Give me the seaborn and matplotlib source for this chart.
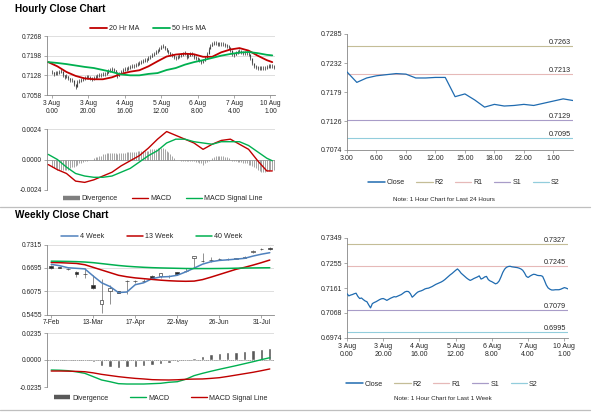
import numpy as np
import matplotlib
matplotlib.use("Agg")
import matplotlib.pyplot as plt
import seaborn as sns
from matplotlib.lines import Line2D
from matplotlib.patches import Rectangle

sns.set_theme(style="white")
plt.rcParams["font.family"] = ["Liberation Sans", "DejaVu Sans"]

# ---------------- data ----------------
# hourly closes, 3 Aug 0.00 -> 10 Aug 3.00 (trading hours)
hourly_close = [
    0.7140, 0.7132, 0.7135, 0.7137, 0.7140, 0.7142, 0.7130, 0.7122, 0.7124, 0.7118,
    0.7113, 0.7110, 0.7098, 0.7087, 0.7103, 0.7107, 0.7110, 0.7114, 0.7118, 0.7121,
    0.7122, 0.7119, 0.7115, 0.7119, 0.7123, 0.7126, 0.7129, 0.7128, 0.7131, 0.7134,
    0.7137, 0.7142, 0.7147, 0.7149, 0.7148, 0.7140, 0.7127, 0.7133, 0.7140, 0.7146,
    0.7149, 0.7151, 0.7154, 0.7158, 0.7160, 0.7161, 0.7164, 0.7167, 0.7171, 0.7175,
    0.7178, 0.7181, 0.7184, 0.7188, 0.7193, 0.7199, 0.7205, 0.7211, 0.7216, 0.7222,
    0.7228, 0.7233, 0.7226, 0.7217, 0.7211, 0.7205, 0.7199, 0.7194, 0.7190, 0.7193,
    0.7197, 0.7200, 0.7203, 0.7207, 0.7195, 0.7198, 0.7203, 0.7205, 0.7193, 0.7188,
    0.7185, 0.7181, 0.7177, 0.7180, 0.7188, 0.7203, 0.7220, 0.7232, 0.7239, 0.7242,
    0.7243, 0.7241, 0.7240, 0.7239, 0.7238, 0.7236, 0.7233, 0.7228, 0.7218, 0.7205,
    0.7201, 0.7206, 0.7210, 0.7213, 0.7212, 0.7209, 0.7208, 0.7208, 0.7205, 0.7190,
    0.7173, 0.7162, 0.7157, 0.7154, 0.7154, 0.7155, 0.7155, 0.7155, 0.7157, 0.7160,
    0.7163, 0.7161, 0.7158,
]
hourly_tick_hours = [0, 20, 40, 60, 80, 100, 120]
hourly_tick_labels = ["3 Aug\n0.00", "3 Aug\n20.00", "4 Aug\n16.00", "5 Aug\n12.00",
                      "6 Aug\n8.00", "7 Aug\n4.00", "10 Aug\n1.00"]

# moving averages / MACD sampled every 5 hours
ma_hours = list(range(-2, 120, 5)) + [121]
ma20 = [0.7175, 0.7160, 0.7140, 0.7126, 0.7117, 0.7114, 0.7114, 0.7121, 0.7133, 0.7141,
        0.7146, 0.7160, 0.7178, 0.7195, 0.7202, 0.7205, 0.7203, 0.7194, 0.7194, 0.7210,
        0.7220, 0.7225, 0.7216, 0.7198, 0.7182, 0.7175]
ma50 = [0.7175, 0.7172, 0.7168, 0.7163, 0.7158, 0.7154, 0.7147, 0.7140, 0.7131, 0.7128,
        0.7128, 0.7133, 0.7136, 0.7147, 0.7154, 0.7166, 0.7175, 0.7182, 0.7190, 0.7198,
        0.7204, 0.7209, 0.7211, 0.7207, 0.7201, 0.7199]
h_macd = [-0.0004, -0.0008, -0.0011, -0.0017, -0.0018, -0.0016, -0.0013, -0.0010, -0.0005, -0.0001,
          0.0003, 0.0009, 0.0016, 0.0022, 0.0019, 0.0016, 0.0013, 0.0008, 0.0012, 0.0015,
          0.0016, 0.0012, 0.0008, -0.0001, -0.0009, -0.0009]
h_signal = [0.0004, 0.0000, -0.0006, -0.0011, -0.0013, -0.0014, -0.0014, -0.0013, -0.0010, -0.0007,
            -0.0002, 0.0003, 0.0007, 0.0013, 0.0016, 0.0016, 0.0014, 0.0013, 0.0012, 0.0014,
            0.0014, 0.0014, 0.0011, 0.0006, 0.0001, -0.0001]
h_divergence = [
    -0.0006, -0.0007, -0.0007, -0.0008, -0.0008, -0.0008, -0.0008, -0.0008, -0.0008, -0.0008,
    -0.0007, -0.0006, -0.0006, -0.0005, -0.0004, -0.0003, -0.0003, -0.0002, -0.0001, -0.0001,
    0.0000, 0.0000, 0.0000, 0.0001, 0.0002, 0.0002, 0.0003, 0.0003, 0.0004, 0.0004,
    0.0005, 0.0005, 0.0005, 0.0005, 0.0005, 0.0005, 0.0004, 0.0005, 0.0005, 0.0005,
    0.0005, 0.0006, 0.0006, 0.0006, 0.0006, 0.0006, 0.0006, 0.0007, 0.0007, 0.0007,
    0.0007, 0.0007, 0.0007, 0.0007, 0.0008, 0.0008, 0.0008, 0.0008, 0.0009, 0.0009,
    0.0009, 0.0009, 0.0008, 0.0007, 0.0006, 0.0004, 0.0003, 0.0001, 0.0000, 0.0000,
    0.0000, -0.0001, -0.0001, -0.0001, -0.0001, -0.0001, -0.0001, -0.0001, -0.0001, -0.0002,
    -0.0002, -0.0003, -0.0003, -0.0004, -0.0003, -0.0002, -0.0001, 0.0000, 0.0001, 0.0002,
    0.0003, 0.0003, 0.0003, 0.0003, 0.0003, 0.0002, 0.0002, 0.0001, 0.0000, -0.0001,
    -0.0001, -0.0001, -0.0002, -0.0002, -0.0002, -0.0003, -0.0003, -0.0003, -0.0004, -0.0004,
    -0.0005, -0.0006, -0.0007, -0.0008, -0.0009, -0.0010, -0.0010, -0.0010, -0.0009, -0.0009,
    -0.0008, -0.0008, -0.0008,
]

# last 24 hours
day_labels = ["3.00", "4.00", "5.00", "6.00", "7.00", "8.00", "9.00", "10.00", "11.00", "12.00",
              "13.00", "14.00", "15.00", "16.00", "17.00", "18.00", "19.00", "20.00", "22.00",
              "23.00", "0.00", "1.00", "2.00", "3.00"]
day_close = [0.7216, 0.7197, 0.7205, 0.7209, 0.7211, 0.7213, 0.7212, 0.7205, 0.7205, 0.7206,
             0.7206, 0.7171, 0.7176, 0.7165, 0.7152, 0.7157, 0.7154, 0.7155, 0.7157, 0.7155,
             0.7159, 0.7163, 0.7167, 0.7164]
day_levels = {"R2": 0.7263, "R1": 0.7213, "S1": 0.7129, "S2": 0.7095}
week_levels = {"R2": 0.7327, "R1": 0.7245, "S1": 0.7079, "S2": 0.6995}

# weekly
week_labels = ["7-Feb", "13-Mar", "17-Apr", "22-May", "26-Jun", "31-Jul"]
w_open = [0.6745, 0.6712, 0.6672, 0.6600, 0.6530, 0.6254, 0.5745, 0.6084, 0.6075, 0.6335,
          0.6345, 0.6350, 0.6491, 0.6485, 0.6480, 0.6575, 0.6610, 0.6950, 0.6890, 0.6900,
          0.6930, 0.6930, 0.6945, 0.6965, 0.7125, 0.7188, 0.7235]
w_high = [0.6760, 0.6730, 0.6700, 0.6610, 0.6680, 0.6520, 0.6400, 0.6236, 0.6090, 0.6370,
          0.6380, 0.6390, 0.6520, 0.6560, 0.6500, 0.6600, 0.6690, 0.7020, 0.7085, 0.6990,
          0.6960, 0.6960, 0.6970, 0.7000, 0.7170, 0.7215, 0.7245]
w_low = [0.6670, 0.6690, 0.6630, 0.6460, 0.6440, 0.6128, 0.5504, 0.5745, 0.6020, 0.6010,
         0.6300, 0.6320, 0.6400, 0.6440, 0.6440, 0.6510, 0.6580, 0.6680, 0.6860, 0.6840,
         0.6900, 0.6910, 0.6920, 0.6950, 0.7100, 0.7170, 0.7170]
w_close = [0.6682, 0.6700, 0.6655, 0.6525, 0.6540, 0.6173, 0.5834, 0.6173, 0.6040, 0.6345,
           0.6340, 0.6360, 0.6425, 0.6548, 0.6470, 0.6540, 0.6620, 0.7010, 0.6880, 0.6910,
           0.6935, 0.6935, 0.6950, 0.6985, 0.7130, 0.7193, 0.7185]
ma4w = [0.6789, 0.6755, 0.6700, 0.6685, 0.6670, 0.6480, 0.6300, 0.6200, 0.6040, 0.6055,
        0.6250, 0.6300, 0.6410, 0.6455, 0.6465, 0.6500, 0.6590, 0.6690, 0.6795, 0.6860,
        0.6895, 0.6910, 0.6930, 0.6950, 0.7010, 0.7060, 0.7100]
ma13w = [0.6840, 0.6835, 0.6825, 0.6815, 0.6780, 0.6710, 0.6640, 0.6570, 0.6500, 0.6460,
         0.6430, 0.6410, 0.6390, 0.6370, 0.6355, 0.6345, 0.6340, 0.6345, 0.6385, 0.6450,
         0.6520, 0.6590, 0.6660, 0.6710, 0.6770, 0.6835, 0.6905]
ma40w = [0.6875, 0.6872, 0.6868, 0.6862, 0.6852, 0.6835, 0.6810, 0.6785, 0.6760, 0.6740,
         0.6725, 0.6712, 0.6702, 0.6695, 0.6690, 0.6685, 0.6680, 0.6678, 0.6678, 0.6678,
         0.6680, 0.6683, 0.6688, 0.6692, 0.6695, 0.6698, 0.6700]
w_macd = [-0.0087, -0.0089, -0.0093, -0.0103, -0.0116, -0.0145, -0.0174, -0.0189, -0.0206, -0.0209,
          -0.0209, -0.0209, -0.0206, -0.0203, -0.0194, -0.0189, -0.0168, -0.0136, -0.0116, -0.0098,
          -0.0081, -0.0065, -0.0049, -0.0032, -0.0015, 0.0003, 0.0020]
w_signal = [-0.0096, -0.0096, -0.0097, -0.0099, -0.0102, -0.0112, -0.0125, -0.0135, -0.0145, -0.0153,
            -0.0160, -0.0165, -0.0171, -0.0173, -0.0174, -0.0172, -0.0168, -0.0166, -0.0165, -0.0160,
            -0.0154, -0.0143, -0.0131, -0.0119, -0.0107, -0.0093, -0.0078]
w_divergence = [0.0009, 0.0003, 0.0002, -0.0003, -0.0003, -0.0020, -0.0052, -0.0061, -0.0073, -0.0064,
                -0.0058, -0.0055, -0.0044, -0.0032, -0.0023, -0.0015, -0.0003, 0.0020, 0.0038, 0.0049,
                0.0058, 0.0067, 0.0073, 0.0078, 0.0087, 0.0096, 0.0102]

# ---------------- style ----------------
W, H = 600, 413
RED, GREEN, BLUE4 = "#C00000", "#00B050", "#4F81BD"
CLOSE = "#1F6BB0"
LEVEL_COL = {"R2": "#C4BD97", "R1": "#E6B9B8", "S1": "#A89CC8", "S2": "#92CDDC"}
GRID, AXC, TXT = "#D9D9D9", "#868686", "#262626"
TICK_FS, LEG_FS = 4.8, 5.1

fig = plt.figure(figsize=(6.0, 4.13), dpi=100)


def box(l, t, r, b):
    return fig.add_axes([l / W, 1 - b / H, (r - l) / W, (b - t) / H])


def style(ax, yticks, ylabels, grid=True, bottom=True):
    ax.set_facecolor("white")
    for s in ["top", "right"]:
        ax.spines[s].set_visible(False)
    ax.spines["left"].set_color(AXC)
    ax.spines["left"].set_linewidth(0.6)
    ax.spines["bottom"].set_color(AXC)
    ax.spines["bottom"].set_linewidth(0.6)
    ax.spines["bottom"].set_visible(bottom)
    ax.set_ylim(yticks[0], yticks[-1])
    ax.set_yticks(yticks)
    ax.set_yticklabels(ylabels)
    if grid:
        for v in yticks[1:]:
            ax.axhline(v, color=GRID, lw=0.6, zorder=0)
    ax.tick_params(axis="both", labelsize=TICK_FS, colors=TXT, length=2, width=0.5,
                   direction="out", pad=1.5, left=True, bottom=bottom)
    ax.tick_params(axis="both", color=AXC)
    ax.set_xlabel("")
    ax.set_ylabel("")


def legend(handles, labels, cx, cy, ncol=None, colsp=2.0):
    fig.legend(handles, labels, loc="center", bbox_to_anchor=(cx / W, 1 - cy / H),
               bbox_transform=fig.transFigure, ncol=ncol or len(handles), frameon=False,
               fontsize=LEG_FS, handlelength=2.3, handletextpad=0.3, columnspacing=colsp,
               borderaxespad=0, borderpad=0)


hours = np.arange(len(hourly_close))
opens = [hourly_close[0]] + hourly_close[:-1]

# ---- A: hourly candles + MAs
axA = box(47, 36, 275, 95)
lo = np.minimum(opens, hourly_close)
hi = np.maximum(opens, hourly_close)
axA.vlines(hours, lo, hi, color="#404040", lw=0.8, zorder=2)
axA.plot(hours, hourly_close, ls="none", marker="|", ms=2.6, mew=0.6, color="#505050", zorder=2)
sns.lineplot(x=ma_hours, y=ma20, ax=axA, color=RED, lw=1.3, zorder=3)
sns.lineplot(x=ma_hours, y=ma50, ax=axA, color=GREEN, lw=1.3, zorder=3)
style(axA, [0.7058, 0.7128, 0.7198, 0.7268], ["0.7058", "0.7128", "0.7198", "0.7268"])
axA.set_xlim(-2.7, 122.5)
axA.set_xticks(hourly_tick_hours)
axA.set_xticklabels(hourly_tick_labels, linespacing=1.25)
legend([Line2D([], [], color=RED, lw=1.3), Line2D([], [], color=GREEN, lw=1.3)],
       ["20 Hr MA", "50 Hrs MA"], 148, 29)

# ---- B: hourly MACD
axB = box(47, 129, 275, 190)
axB.vlines(hours, 0, h_divergence, color="#8C8C8C", lw=0.55, zorder=1)
sns.lineplot(x=ma_hours, y=h_macd, ax=axB, color=RED, lw=1.0, zorder=3)
sns.lineplot(x=ma_hours, y=h_signal, ax=axB, color=GREEN, lw=1.0, zorder=3)
style(axB, [-0.0024, 0.0, 0.0024], ["-0.0024", "0.0000", "0.0024"], bottom=False)
axB.axhline(0, color=AXC, lw=0.5, zorder=2)
axB.axhline(-0.0024, color=GRID, lw=0.6, zorder=0)
axB.set_xlim(-2.7, 122.5)
axB.set_xticks([])
legend([Line2D([], [], color="#7F7F7F", lw=3.2, solid_capstyle="butt"),
        Line2D([], [], color=RED, lw=1.0), Line2D([], [], color=GREEN, lw=1.0)],
       ["Divergence", "MACD", "MACD Signal Line"], 163, 199)


def level_chart(ax, x, y, levels, yt, ylab, xlim):
    for k, v in levels.items():
        ax.axhline(v, color=LEVEL_COL[k], lw=0.8, zorder=1)
        ax.text(0.99, v, f"{v:.4f}", transform=ax.get_yaxis_transform(), ha="right",
                va="bottom", fontsize=5.2, color=TXT)
    sns.lineplot(x=x, y=y, ax=ax, color=CLOSE, lw=0.9, zorder=3)
    style(ax, yt, ylab, grid=False)
    ax.set_xlim(*xlim)


lvl_handles = [Line2D([], [], color=CLOSE, lw=1.1)] + \
              [Line2D([], [], color=LEVEL_COL[k], lw=0.9) for k in ["R2", "R1", "S1", "S2"]]
lvl_names = ["Close", "R2", "R1", "S1", "S2"]

# ---- C: last 24 hours
axC = box(347, 34, 573, 150)
didx = np.arange(len(day_close))
level_chart(axC, didx, day_close, day_levels,
            [0.7074, 0.7126, 0.7179, 0.7232, 0.7285],
            ["0.7074", "0.7126", "0.7179", "0.7232", "0.7285"], (0, len(day_close) - 1))
axC.set_xticks(didx[::3])
axC.set_xticklabels(day_labels[::3])
axC.tick_params(labelsize=5.0)
legend(lvl_handles, lvl_names, 464, 183, colsp=1.6)
fig.text(444 / W, 1 - 200 / H, "Note: 1 Hour Chart for Last 24 Hours", ha="center",
         va="center", fontsize=4.5, color=TXT)

# ---- F: last week hourly
axF = box(347, 238, 568, 338)
level_chart(axF, hours, hourly_close, week_levels,
            [0.6974, 0.7068, 0.7161, 0.7255, 0.7349],
            ["0.6974", "0.7068", "0.7161", "0.7255", "0.7349"], (0, 122))
axF.set_xticks(hourly_tick_hours)
axF.set_xticklabels(hourly_tick_labels, linespacing=1.25)
axF.tick_params(labelsize=5.0)
legend(lvl_handles, lvl_names, 442, 384, colsp=1.6)
fig.text(443 / W, 1 - 398 / H, "Note: 1 Hour Chart for Last 1 Week", ha="center",
         va="center", fontsize=4.5, color=TXT)

# ---- D: weekly candles
axD = box(47, 244.6, 274, 314.6)
wk = np.arange(len(w_close))
axD.vlines(wk, w_low, w_high, color="#7F7F7F", lw=0.6, zorder=2)
for i in wk:
    o, c = w_open[i], w_close[i]
    b0, bh = min(o, c), max(abs(c - o), 0.0008)
    fc = "#262626" if c < o else "white"
    axD.add_patch(Rectangle((i - 0.22, b0), 0.44, bh, facecolor=fc, edgecolor="#404040",
                            lw=0.5, zorder=3))
sns.lineplot(x=wk, y=ma4w, ax=axD, color=BLUE4, lw=1.1, zorder=4)
sns.lineplot(x=wk, y=ma13w, ax=axD, color=RED, lw=1.1, zorder=4)
sns.lineplot(x=wk, y=ma40w, ax=axD, color=GREEN, lw=1.1, zorder=4)
style(axD, [0.5455, 0.6075, 0.6695, 0.7315], ["0.5455", "0.6075", "0.6695", "0.7315"])
axD.set_xlim(-0.5, len(w_close) - 0.5)
axD.set_xticks(wk[::5])
axD.set_xticklabels(week_labels)
legend([Line2D([], [], color=BLUE4, lw=1.1), Line2D([], [], color=RED, lw=1.1),
        Line2D([], [], color=GREEN, lw=1.1)], ["4 Week", "13 Week", "40 Week"], 152, 237,
       colsp=3.2)

# ---- E: weekly MACD
axE = box(47, 333, 274, 387)
axE.bar(wk, w_divergence, width=0.4, color="#595959", zorder=1)
sns.lineplot(x=wk, y=w_macd, ax=axE, color=GREEN, lw=1.0, zorder=3)
sns.lineplot(x=wk, y=w_signal, ax=axE, color=RED, lw=1.0, zorder=3)
style(axE, [-0.0235, 0.0, 0.0235], ["-0.0235", "0.0000", "0.0235"], bottom=False)
axE.axhline(0, color=AXC, lw=0.5, ls=(0, (2, 1)), zorder=2)
axE.axhline(-0.0235, color=GRID, lw=0.6, zorder=0)
axE.set_xlim(-0.5, len(w_close) - 0.5)
axE.set_xticks([])
legend([Line2D([], [], color="#595959", lw=3.2, solid_capstyle="butt"),
        Line2D([], [], color=GREEN, lw=1.0), Line2D([], [], color=RED, lw=1.0)],
       ["Divergence", "MACD", "MACD Signal Line"], 161, 398, colsp=3.0)

# ---- titles and separators
fig.text(15 / W, 1 - 9.5 / H, "Hourly Close Chart", fontsize=7.2, fontweight="bold",
         va="center", ha="left", color="black")
fig.text(15 / W, 1 - 215 / H, "Weekly Close Chart", fontsize=7.2, fontweight="bold",
         va="center", ha="left", color="black")
for yy in (207, 410):
    fig.add_artist(Line2D([0, 590 / W], [1 - yy / H, 1 - yy / H], color="#BFBFBF", lw=0.9,
                          transform=fig.transFigure))

for ax in (axA, axB, axC, axD, axE, axF):
    leg = ax.get_legend()
    if leg is not None:
        leg.remove()

fig.savefig("out.png", dpi=100, facecolor="white")
